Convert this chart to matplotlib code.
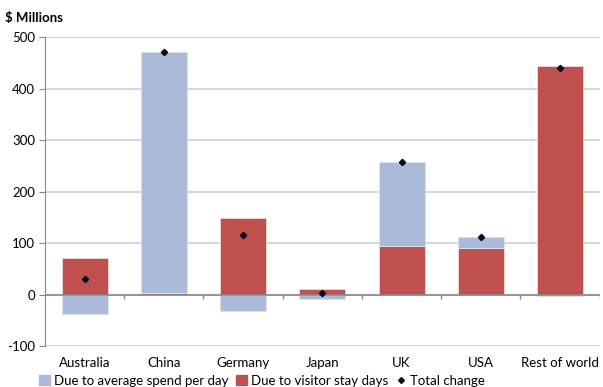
import matplotlib.pyplot as plt
from matplotlib.lines import Line2D
from matplotlib.patches import Patch
import numpy as np

plt.rcParams['font.family'] = ['Lato', 'DejaVu Sans']
plt.rcParams['axes.unicode_minus'] = False

countries = ['Australia', 'China', 'Germany', 'Japan', 'UK', 'USA', 'Rest of world']
stay_days = [70, 2, 148, 11, 94, 90, 443]
spend = [-38, 470, -32, -8, 164, 22, -2]
total = [30, 471, 116, 3, 258, 112, 441]

c_blue = '#AABAD8'
c_red = '#C0504D'

fig = plt.figure(figsize=(6.03, 3.87), dpi=100)
ax = fig.add_axes([0.0746, 0.106, 0.92, 0.798])

x = np.arange(len(countries))
w = 0.58
stay = np.array(stay_days, dtype=float)
spd = np.array(spend, dtype=float)

# red first, then blue stacked on the same sign side
pos_base = np.zeros(len(x))
neg_base = np.zeros(len(x))
red_bottom = np.where(stay >= 0, pos_base, neg_base)
ax.bar(x, stay, w, bottom=red_bottom, color=c_red, edgecolor='#F2DCDB', linewidth=0.6, zorder=3)
pos_base = pos_base + np.clip(stay, 0, None)
neg_base = neg_base + np.clip(stay, None, 0)
blue_bottom = np.where(spd >= 0, pos_base, neg_base)
ax.bar(x, spd, w, bottom=blue_bottom, color=c_blue, edgecolor='#DCE3EF', linewidth=0.6, zorder=3)

ax.plot(x, total, 'D', color='#0A0A1E', markersize=3.2, zorder=5)

ax.set_xlim(-0.5, len(x) - 0.5)
ax.set_ylim(-100, 500)
ax.set_yticks(range(-100, 501, 100))
ax.yaxis.grid(True, color='#D0D0D0', linewidth=1.2, zorder=0)
ax.tick_params(axis='y', length=4, color='#888888', labelsize=9.5, pad=3)

ax.set_xticks(x)
ax.set_xticklabels(countries, fontsize=9.5)
ax.tick_params(axis='x', length=0, pad=8)

for s in ['top', 'right', 'bottom']:
    ax.spines[s].set_visible(False)
ax.spines['left'].set_color('#888888')

# zero axis with category separator ticks
ax.axhline(0, color='#888888', linewidth=1.2, zorder=4)
ax.vlines(np.arange(0.5, len(x)), -8, 0, color='#888888', linewidth=1, zorder=4)

fig.text(0.008, 0.953, '$ Millions', fontsize=9.5, fontweight='bold', va='center')

handles = [Patch(color=c_blue, label='Due to average spend per day'),
           Patch(color=c_red, label='Due to visitor stay days'),
           Line2D([], [], marker='D', color='#0A0A1E', linestyle='none', markersize=3,
                  label='Total change')]
fig.legend(handles=handles, loc='center', bbox_to_anchor=(0.435, 0.016), ncol=3,
           frameon=False, fontsize=9.5, handlelength=0.8, handleheight=0.8,
           handletextpad=0.3, columnspacing=0.6, borderpad=0)

fig.savefig('out.png', dpi=100)
